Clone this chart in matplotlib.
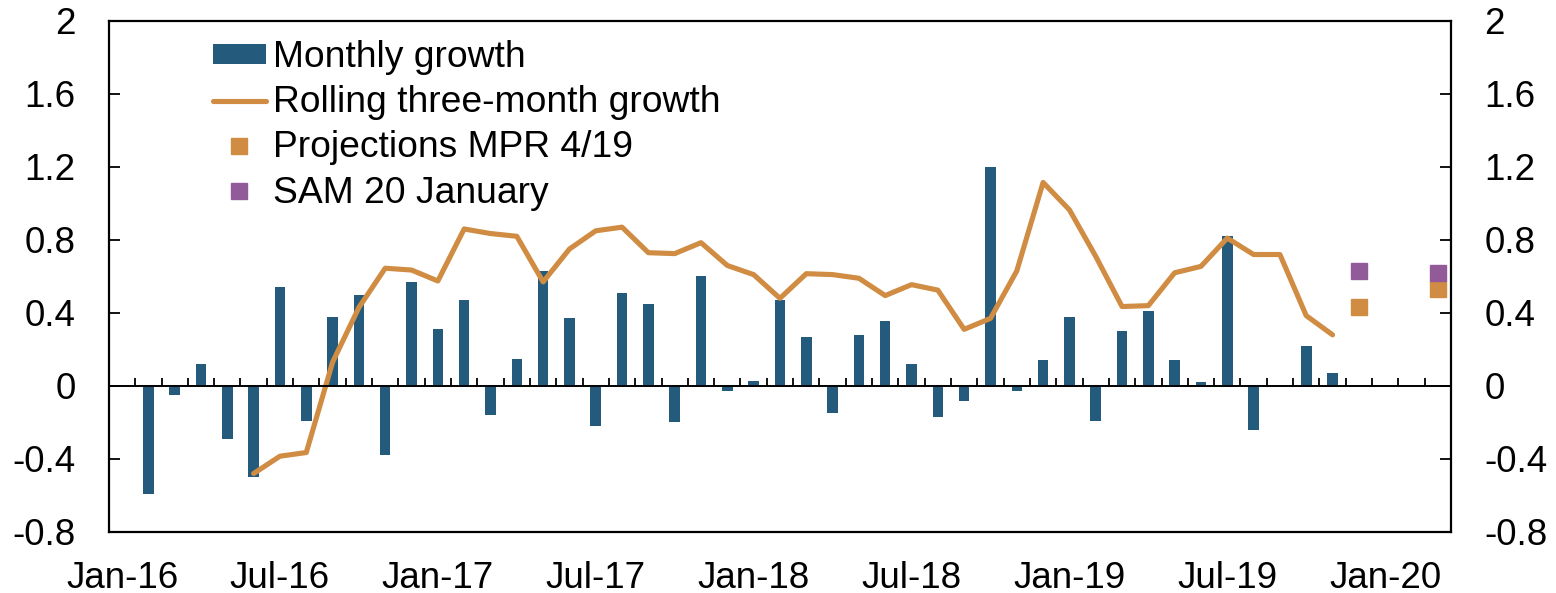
import numpy as np
import matplotlib
matplotlib.use("Agg")
import matplotlib.pyplot as plt
from matplotlib.ticker import FixedLocator, FuncFormatter

plt.rcParams['font.family'] = ['Liberation Sans', 'DejaVu Sans']

months = ['Jan-16','Feb-16','Mar-16','Apr-16','May-16','Jun-16','Jul-16','Aug-16','Sep-16','Oct-16','Nov-16','Dec-16',
          'Jan-17','Feb-17','Mar-17','Apr-17','May-17','Jun-17','Jul-17','Aug-17','Sep-17','Oct-17','Nov-17','Dec-17',
          'Jan-18','Feb-18','Mar-18','Apr-18','May-18','Jun-18','Jul-18','Aug-18','Sep-18','Oct-18','Nov-18','Dec-18',
          'Jan-19','Feb-19','Mar-19','Apr-19','May-19','Jun-19','Jul-19','Aug-19','Sep-19','Oct-19','Nov-19','Dec-19',
          'Jan-20','Feb-20','Mar-20']
nan = np.nan
monthly_growth = [nan, -0.59, -0.05, 0.12, -0.29, -0.50, 0.54, -0.19, 0.38, 0.50, -0.38, 0.57,
                  0.31, 0.47, -0.16, 0.15, 0.63, 0.37, -0.22, 0.51, 0.45, -0.20, 0.60, -0.03,
                  0.025, 0.47, 0.27, -0.15, 0.28, 0.355, 0.12, -0.17, -0.085, 1.20, -0.03, 0.14,
                  0.375, -0.19, 0.30, 0.41, 0.14, 0.02, 0.82, -0.24, nan, 0.22, 0.07, nan,
                  nan, nan, nan]
rolling_3m = [nan, nan, nan, nan, nan, -0.48, -0.385, -0.365, 0.13, 0.43, 0.645, 0.635,
              0.575, 0.86, 0.835, 0.82, 0.57, 0.75, 0.85, 0.87, 0.73, 0.725, 0.785, 0.66,
              0.61, 0.48, 0.615, 0.61, 0.59, 0.495, 0.555, 0.525, 0.31, 0.37, 0.63, 1.115,
              0.965, 0.71, 0.435, 0.44, 0.62, 0.655, 0.81, 0.72, 0.72, 0.385, 0.28, nan,
              nan, nan, nan]
proj_months = ['Dec-19', 'Mar-20']
proj_mpr = [0.435, 0.53]
proj_sam = [0.63, 0.62]

yticks = [-0.8, -0.4, 0, 0.4, 0.8, 1.2, 1.6, 2]
xlabel_months = ['Jan-16','Jul-16','Jan-17','Jul-17','Jan-18','Jul-18','Jan-19','Jul-19','Jan-20']

BLUE = '#245A7B'
ORANGE = '#D08C42'
PURPLE = '#935A9A'
FS = 26.5

fig = plt.figure(figsize=(15.56, 5.93), dpi=100)
ax = fig.add_axes([0.070, 0.103, 0.8625, 0.8617])

x = np.arange(len(months))
h_bar = ax.bar(x, monthly_growth, width=0.4, color=BLUE, label='Monthly growth', zorder=2)
h_line, = ax.plot(x, rolling_3m, color=ORANGE, lw=3.7, solid_capstyle='round', solid_joinstyle='round',
                  label='Rolling three-month growth', zorder=3)
px = [months.index(m) for m in proj_months]
h_mpr, = ax.plot(px, proj_mpr, ls='none', marker='s', ms=11.5, color=ORANGE,
                 label='Projections MPR 4/19', zorder=4)
h_sam, = ax.plot(px, proj_sam, ls='none', marker='s', ms=11.5, color=PURPLE,
                 label='SAM 20 January', zorder=5)

ax.axhline(0, color='black', lw=1.4, zorder=3)
# tick marks at category boundaries on the zero line
bounds = np.arange(0.5, len(months) - 0.5, 1.0)
ax.vlines(bounds, 0, 0.045, color='black', lw=1.3, zorder=3)

ax.set_xlim(-0.5, len(months) - 0.5)
ax.set_ylim(-0.8, 2)

fmt = FuncFormatter(lambda v, p: ('%g' % round(v, 1)))
ax.yaxis.set_major_locator(FixedLocator(yticks))
ax.yaxis.set_major_formatter(fmt)
ax.tick_params(axis='y', direction='in', length=8, width=1.3, labelsize=FS, pad=24,
               left=True, right=True, labelleft=True, labelright=True)
ax.set_xticks([months.index(m) for m in xlabel_months])
ax.set_xticklabels(xlabel_months)
ax.tick_params(axis='x', length=0, labelsize=FS, pad=21)

for s in ax.spines.values():
    s.set_linewidth(1.6)

leg = ax.legend(handles=[h_bar, h_line, h_mpr, h_sam],
                loc='upper left', bbox_to_anchor=(0.0775, 0.962), frameon=False, fontsize=26.8,
                handlelength=1.42, handleheight=0.45, handletextpad=0.2, labelspacing=0.27,
                borderpad=0, borderaxespad=0)

fig.savefig('out.png', dpi=100)
